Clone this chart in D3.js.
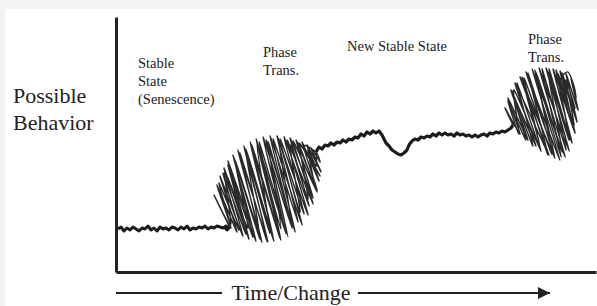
<!DOCTYPE html>
<html>
<head>
<meta charset="utf-8">
<script src="https://cdn.jsdelivr.net/npm/d3@7"></script>
<style>
  html, body { margin: 0; padding: 0; background: #f3f3f3; }
  svg { display: block; }
  text { font-family: "Liberation Serif", "Times New Roman", serif; fill: #222; }
</style>
</head>
<body>
<svg id="chart" width="597" height="306"></svg>
<script>
// Time on x (0..480), possible behavior on y (0..255), both
var stableLow = [
  [2,43],[5,45],[8,41],[11,44],[14,42],[17,45],[20,43],[23,41],[26,44],[29,43],
  [32,46],[35,42],[38,44],[41,41],[44,45],[47,43],[50,44],[53,42],[56,45],[59,44],
  [62,42],[65,45],[68,43],[71,46],[74,42],[77,44],[80,43],[83,45],[86,44],[89,46],
  [92,43],[95,45],[98,44],[101,46],[104,45],[107,44],[110,46],[113,44],[111,42],
  [109,44],[112,45],[114,44]
];

// scribble: forward pass, back pass, forward again
var phaseTrans1 = [
  [114,44],
  [98,77],[115,44],[101,87],[121,40],[104,96],[127,36],[108,104],[133,33],
  [112,111],[140,31],[117,117],[146,30],[122,122],[152,30],[128,126],[158,31],
  [134,130],[164,34],[140,133],[170,38],[147,135],[176,44],[154,136],[182,50],
  [161,136],[188,58],[168,135],[193,66],[174,134],[197,74],[180,132],[201,82],
  [186,130],[203,91],[191,127],[205,100],[195,124],[204,110],[200,120],
  [188,126],[204,96],[183,129],[201,80],[177,131],[197,68],[171,132],[192,57],
  [164,133],[186,47],[157,133],[179,40],[150,132],[172,35],[143,130],[165,32],
  [136,127],[158,31],[130,123],[151,31],[124,119],[144,33],[118,114],[137,35],
  [112,107],[130,38],[107,99],[123,42],[103,89],[115,48],
  [109,100],[132,44],[119,112],[143,40],[130,121],[154,39],[141,127],[165,43],
  [152,130],[175,50],[163,130],[184,60],[174,127],[192,73],[184,124],[198,88],
  [192,122],[200,106],[200,120]
];

var newStable = [
  [200,120],[203,125],[206,123],[209,127],[212,126],[215,129],[218,127],[221,130],
  [224,129],[227,132],[230,130],[233,133],[236,132],[239,135],[242,134],[245,138],
  [248,136],[251,140],[254,138],[257,141],[260,139],[263,141],[266,137],[268,133],
  [270,129],[273,126],[276,122],[279,120],[282,118],[285,117],[288,119],[291,122],
  [293,127],[296,131],[299,133],[302,132],[305,135],[308,134],[311,136],[314,135],
  [317,138],[320,136],[323,139],[326,137],[329,139],[332,137],[335,138],[338,136],
  [341,139],[344,137],[347,138],[350,136],[353,137],[356,135],[359,137],[362,135],
  [365,137],[368,138],[371,136],[374,139],[377,138],[380,140],[383,139],[386,141],
  [389,140],[392,142],[395,144],[397,147]
];

var phaseTrans2 = [
  [397,147],
  [389,164],[404,138],[392,174],[412,132],[395,182],[420,126],[399,189],[433,117],
  [404,195],[439,114],[410,200],[444,112],[416,203],[449,115],[423,204],[453,121],
  [430,204],[456,129],[437,203],[459,139],[444,201],[461,150],[450,198],[462,162],
  [455,193],[460,174],[458,186],[452,200],[445,194],[450,184],
  [459,157],[446,199],[457,144],[440,202],[454,132],[433,203],[450,122],[426,203],
  [445,115],[419,202],[439,114],[412,199],[432,117],[406,195],[425,121],[401,189],
  [417,126],[396,181],[410,132],[392,171],[403,138],
  [398,182],[424,124],[408,194],[436,118],[420,200],[446,120],[432,200],[453,132],
  [442,198],[458,147],[450,192],[459,164],[454,180]
];

var yTitle = ["Possible", "Behavior"];
var xTitle = "Time/Change";
var phaseLabels = [
  { t: 22, b: 204, lines: ["Stable", "State", "(Senescence)"] },
  { t: 147, b: 215, lines: ["Phase", "Trans."] },
  { t: 231, b: 221, lines: ["New Stable State"] },
  { t: 412, b: 228, lines: ["Phase", "Trans."] }
];

var svg = d3.select("#chart");

// white panel inside the light grey frame
svg.append("rect")
  .attr("x", 5).attr("y", 9)
  .attr("width", 592).attr("height", 297)
  .attr("fill", "#fff");

var x = d3.scaleLinear().domain([0, 480]).range([116, 596]);
var y = d3.scaleLinear().domain([0, 255]).range([272, 17]);

// Axes without ticks, just the heavy lines
svg.append("g")
  .attr("class", "axis")
  .attr("transform", "translate(0,272)")
  .call(d3.axisBottom(x).tickValues([]).tickSizeOuter(0));

svg.append("g")
  .attr("class", "axis")
  .attr("transform", "translate(116,0)")
  .call(d3.axisLeft(y).tickValues([]).tickSizeOuter(0));

svg.selectAll(".axis .domain")
  .attr("stroke", "#222")
  .attr("stroke-width", 3);

var jagged = d3.line()
  .x(function(d) { return x(d[0]); })
  .y(function(d) { return y(d[1]); });

var scribble = d3.line()
  .curve(d3.curveCardinal.tension(0.3))
  .x(function(d) { return x(d[0]); })
  .y(function(d) { return y(d[1]); });

svg.append("path")
  .attr("d", jagged(stableLow))
  .attr("fill", "none")
  .attr("stroke", "#1c1c1c")
  .attr("stroke-width", 3)
  .attr("stroke-linejoin", "round");

svg.append("path")
  .attr("d", scribble(phaseTrans1))
  .attr("fill", "none")
  .attr("stroke", "#2a2a2a")
  .attr("stroke-width", 1.4);

svg.append("path")
  .attr("d", jagged(newStable))
  .attr("fill", "none")
  .attr("stroke", "#1c1c1c")
  .attr("stroke-width", 3.2)
  .attr("stroke-linejoin", "round");

svg.append("path")
  .attr("d", scribble(phaseTrans2))
  .attr("fill", "none")
  .attr("stroke", "#2a2a2a")
  .attr("stroke-width", 1.4);

// Region labels
phaseLabels.forEach(function(lab) {
  var t = svg.append("text")
    .attr("x", x(lab.t))
    .attr("y", y(lab.b))
    .attr("font-size", 14.5);
  lab.lines.forEach(function(line, i) {
    t.append("tspan")
      .attr("x", x(lab.t))
      .attr("dy", i === 0 ? 0 : 18)
      .text(line);
  });
});

// Y title
svg.append("text")
  .attr("x", 13)
  .attr("y", 103)
  .attr("font-size", 22)
  .selectAll("tspan")
  .data(yTitle)
  .enter().append("tspan")
    .attr("x", 13)
    .attr("dy", function(d, i) { return i === 0 ? 0 : 27; })
    .text(function(d) { return d; });

// X title with arrow lines on both sides
svg.append("defs").append("marker")
  .attr("id", "head")
  .attr("viewBox", "0 0 10 10")
  .attr("refX", 10).attr("refY", 5)
  .attr("markerWidth", 6).attr("markerHeight", 6)
  .attr("markerUnits", "strokeWidth")
  .attr("orient", "auto")
  .append("path")
    .attr("d", "M0,0L10,5L0,10Z")
    .attr("fill", "#222");

svg.append("line")
  .attr("x1", 116).attr("x2", 222)
  .attr("y1", 293).attr("y2", 293)
  .attr("stroke", "#222").attr("stroke-width", 2);

svg.append("text")
  .attr("x", 291)
  .attr("y", 300)
  .attr("text-anchor", "middle")
  .attr("font-size", 22)
  .text(xTitle);

svg.append("line")
  .attr("x1", 358).attr("x2", 550)
  .attr("y1", 293).attr("y2", 293)
  .attr("stroke", "#222").attr("stroke-width", 2)
  .attr("marker-end", "url(#head)");
</script>
</body>
</html>
